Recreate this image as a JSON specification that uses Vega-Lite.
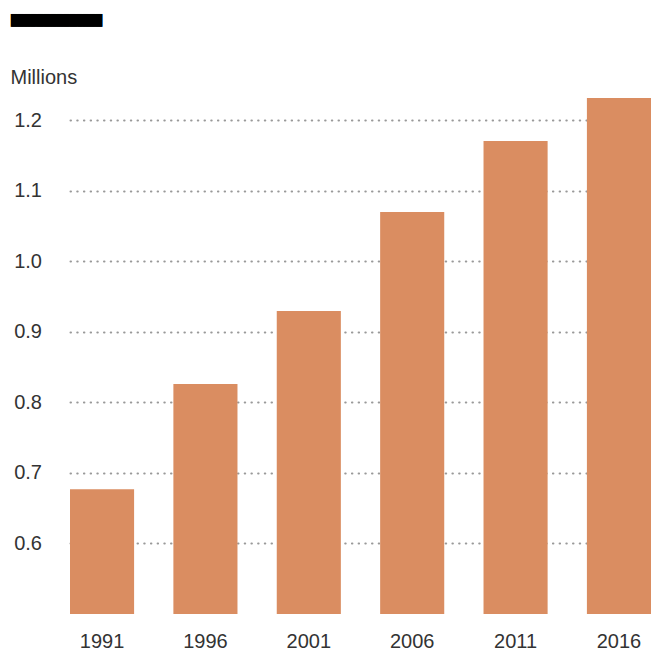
{
  "$schema": "https://vega.github.io/schema/vega-lite/v6.json",
  "width": 581,
  "height": 529,
  "autosize": "none",
  "padding": {"left": 70, "top": 85, "right": 2, "bottom": 36},
  "background": "white",
  "config": {"view": {"stroke": null}, "font": "Liberation Sans"},
  "title": {
    "text": "███████████",
    "subtitle": "██████████████",
    "font": "DejaVu Sans",
    "fontSize": 10.8,
    "color": "black",
    "subtitleFont": "DejaVu Sans Mono",
    "subtitleFontSize": 10.8,
    "subtitleColor": "black",
    "subtitlePadding": -10.8,
    "anchor": "start",
    "frame": "group",
    "dx": -59,
    "dy": -42,
    "offset": 0
  },
  "data": {
    "values": [
      {"year": "1991", "value": 0.677},
      {"year": "1996", "value": 0.826},
      {"year": "2001", "value": 0.9296},
      {"year": "2006", "value": 1.07},
      {"year": "2011", "value": 1.1707},
      {"year": "2016", "value": 1.2316}
    ]
  },
  "mark": {"type": "bar", "color": "#DA8D61", "clip": true},
  "encoding": {
    "x": {
      "field": "year",
      "type": "ordinal",
      "scale": {"paddingInner": 0.38, "paddingOuter": 0},
      "axis": {
        "title": null,
        "labelAngle": 0,
        "ticks": false,
        "domain": false,
        "labelFontSize": 20,
        "labelColor": "#333333",
        "labelBaseline": "alphabetic",
        "labelPadding": 33
      }
    },
    "y": {
      "field": "value",
      "type": "quantitative",
      "scale": {"domain": [0.5, 1.25], "nice": false, "zero": false},
      "axis": {
        "values": [0.6, 0.7, 0.8, 0.9, 1.0, 1.1, 1.2],
        "format": ".1f",
        "title": "Millions",
        "titleAngle": 0,
        "titleAlign": "left",
        "titleBaseline": "alphabetic",
        "titleX": -60,
        "titleY": -1.5,
        "titleFontSize": 20,
        "titleFontWeight": "normal",
        "titleColor": "#333333",
        "ticks": false,
        "domain": false,
        "labelFontSize": 20,
        "labelColor": "#333333",
        "labelPadding": 28.5,
        "grid": true,
        "gridColor": "#999999",
        "gridDash": [0.5, 6.2],
        "gridCap": "round",
        "gridWidth": 2
      }
    }
  }
}
